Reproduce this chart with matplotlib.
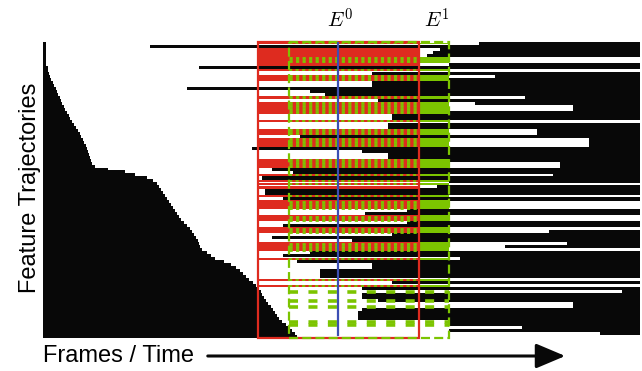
import matplotlib
matplotlib.use("Agg")
import matplotlib.pyplot as plt
from matplotlib.patches import Rectangle

# ---------------- data ----------------
# frame axis: 0 .. 597 ; one row per feature trajectory (top -> bottom)
T_END = 597
# end frame of trajectories that start at frame 0 (left staircase)
left_end = [3, 3, 3, 3, 3, 3, 3, 3, 5, 5, 6, 7, 8, 10, 11, 13, 14, 15, 17, 18,
            19, 21, 22, 24, 26, 27, 29, 31, 33, 35, 37, 38, 40, 41, 43, 44, 45, 46, 47, 48,
            49, 52, 65, 82, 92, 104, 110, 114, 116, 118, 120, 122, 124, 126, 128, 130, 132, 134, 136, 138,
            141, 144, 147, 149, 151, 153, 155, 156, 157, 159, 164, 168, 172, 181, 188, 193, 197, 200, 203, 206,
            210, 213, 216, 218, 219, 221, 223, 225, 228, 230, 232, 234, 236, 239, 243, 246, 249, 252, 254]
# start frame of trajectories that last until the end of the sequence
right_start = [436, 107, 397, 390, 384, 597, 597, 406, 156, 597, 329, 452, 406, 329, 329, 144, 267, 282, 482, 335,
               432, 530, 530, 406, 349, 349, 597, 345, 345, 494, 494, 257, 546, 546, 546, 209, 319, 345, 345, 406,
               517, 517, 229, 250, 510, 219, 406, 597, 394, 222, 222, 597, 240, 597, 597, 597, 364, 322, 597, 597,
               364, 240, 597, 506, 349, 229, 309, 524, 462, 597, 267, 240, 417, 254, 329, 329, 277, 277, 277, 597,
               349, 597, 319, 579, 319, 319, 335, 530, 530, 319, 315, 315, 315, 406, 406, 479, 406, 557, 597]
# membership: rg = spans E0 and E1, d = same (thin), r = spans E0 only, g = E1 only, '' = none
row_class = ["d", "", "r", "r", "r", "rg", "rg", "r", "", "d", "", "rg", "rg", "", "", "", "", "", "rg", "",
             "rg", "rg", "rg", "rg", "", "", "d", "", "", "rg", "rg", "", "rg", "rg", "rg", "", "", "", "", "rg",
             "rg", "rg", "", "", "d", "", "d", "d", "r", "", "", "d", "", "rg", "rg", "rg", "", "", "rg", "rg",
             "", "", "rg", "rg", "", "", "", "rg", "rg", "rg", "", "", "d", "", "", "", "", "", "", "d",
             "", "d", "", "g", "", "", "g", "", "g", "", "", "", "", "g", "g", "", "", "", ""]
window_E0 = [215, 376]
window_E1 = [246, 406]
current_frame = 295
labels = ["$E^0$", "$E^1$"]

# ---------------- style ----------------
BLACK = "#080808"
RED = "#de2b1f"
GREEN = "#7cc400"
BLUE = "#3c4fb4"
plt.rcParams["lines.scale_dashes"] = False
plt.rcParams["mathtext.fontset"] = "cm"

W, H = 642, 371
fig = plt.figure(figsize=(W / 100, H / 100), dpi=100)
ax = fig.add_axes([43 / W, (H - 338) / H, (640 - 43) / W, (338 - 42) / H])
N = len(left_end)
ax.set_xlim(0, T_END)
ax.set_ylim(N, 0)
ax.axis("off")
row_pt = (338 - 42) / N * 72 / 100

for i in range(N):
    y = i + 0.5
    ax.barh(y, left_end[i], left=0, height=1.05, color=BLACK, lw=0, zorder=1)
    if right_start[i] < T_END:
        ax.barh(y, T_END - right_start[i], left=right_start[i], height=1.05,
                color=BLACK, lw=0, zorder=1)
    c = row_class[i]
    if c in ("rg", "d"):
        h = 1.0 if c == "rg" else 0.65
        ax.barh(y, window_E0[1] - window_E0[0], left=window_E0[0], height=h,
                color=RED, lw=0, zorder=2)
        ax.barh(y, window_E1[1] - window_E0[1], left=window_E0[1], height=h,
                color=GREEN, lw=0, zorder=2)
        ax.hlines(y, window_E1[0], window_E0[1], colors=GREEN,
                  linewidth=row_pt * h * 0.95, linestyles=[(0, (2.3, 2.4))], zorder=3)
    elif c == "r":
        ax.barh(y, window_E0[1] - window_E0[0], left=window_E0[0], height=1.0,
                color=RED, lw=0, zorder=2)
    elif c == "g":
        ax.hlines(y, window_E1[0], window_E1[1], colors=GREEN,
                  linewidth=row_pt * 1.2, linestyles=[(0, (6.5, 7.5))], zorder=3)

ax.add_patch(Rectangle((window_E0[0], 0), window_E0[1] - window_E0[0], N, fill=False,
                       ec=RED, lw=1.6, clip_on=False, zorder=5))
ax.add_patch(Rectangle((window_E1[0], 0), window_E1[1] - window_E1[0], N, fill=False,
                       ec=GREEN, lw=1.6, ls=(0, (6.5, 3)), clip_on=False, zorder=5))
ax.plot([current_frame, current_frame], [0, N - 1], color=BLUE, lw=1.6, zorder=6)

fig.text(340 / W, (H - 20) / H, labels[0], ha="center", va="center", fontsize=15)
fig.text(437 / W, (H - 20) / H, labels[1], ha="center", va="center", fontsize=15)

fig.text(30 / W, (H - 188) / H, "Feature Trajectories", rotation=90, ha="center",
         va="center", fontsize=17, family="Liberation Sans")
fig.text(43 / W, (H - 356) / H, "Frames / Time", ha="left", va="center",
         fontsize=17, family="Liberation Sans")
fig.patches.append(matplotlib.patches.FancyArrowPatch(
    (205, H - 356), (568, H - 356), transform=None,
    arrowstyle="-|>,head_length=0.9,head_width=0.38", mutation_scale=20,
    lw=2.2, color=BLACK))

fig.savefig("out.png", dpi=100)
